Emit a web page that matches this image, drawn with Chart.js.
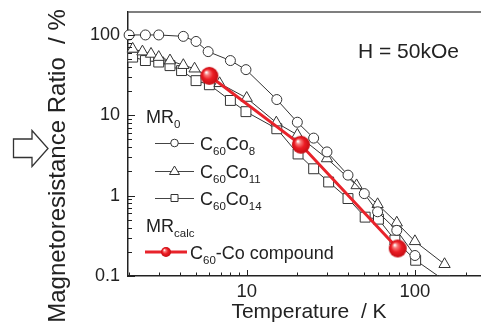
<!DOCTYPE html>
<html>
<head>
<meta charset="utf-8">
<script src="https://cdn.jsdelivr.net/npm/chart.js@4/dist/chart.umd.min.js"></script>
<style>
html,body{margin:0;padding:0;background:#fff;}
#wrap{position:relative;width:481px;height:331px;}
</style>
</head>
<body>
<div id="wrap"><canvas id="c" width="481" height="331"></canvas></div>
<script>
// ---- data ----
const tempCo8  = [2.0, 2.5, 3.0, 4.2, 5.0, 5.9, 8.0, 9.9, 15.1, 20, 25, 30, 40, 50, 60, 78, 100];
const mrCo8    = [100, 100, 100, 96, 83, 62, 48, 37, 15.7, 8.2, 5.2, 3.5, 1.8, 1.06, 0.63, 0.37, 0.18];
const tempCo11 = [2.1, 2.4, 2.7, 3.0, 3.5, 4.2, 4.9, 6.9, 10, 15, 20, 30, 45, 60, 78, 100, 150];
const mrCo11   = [67, 62, 58, 53, 48, 42, 38, 25, 16.4, 8.1, 5.7, 2.9, 1.34, 0.78, 0.46, 0.27, 0.14];
const tempCo14 = [2.1, 2.5, 3.0, 3.5, 4.1, 5.0, 6.0, 8.0, 9.9, 15.1, 20.2, 25, 30.7, 40, 50.6, 60.7, 76, 101, 150];
const mrCo14   = [53, 48, 46, 41.5, 36, 27, 24, 15.3, 11.1, 6.8, 3.3, 2.16, 1.48, 0.92, 0.54, 0.51, 0.28, 0.157, 0.088];
const tempCalc = [6, 21, 79];
const mrCalc   = [31, 4.3, 0.22];
const xTickLabels = [10, 100];
const yTickLabels = [0.1, 1, 10, 100];

const FONT = '"Liberation Sans", Arial, Helvetica, sans-serif';
const INK = '#222';
const LINE = '#333';
const RED = '#e8232b';

function makeBall(r){
  const c = document.createElement('canvas');
  const s = 2*r+2; c.width = s; c.height = s;
  const g = c.getContext('2d');
  const cx = s/2, cy = s/2;
  const grd = g.createRadialGradient(cx - r*0.35, cy - r*0.4, r*0.05, cx, cy, r);
  grd.addColorStop(0, '#ffffff');
  grd.addColorStop(0.22, '#f77a7a');
  grd.addColorStop(0.55, '#ec1d25');
  grd.addColorStop(1, '#c40c12');
  g.fillStyle = grd;
  g.beginPath(); g.arc(cx, cy, r, 0, Math.PI*2); g.fill();
  return c;
}
const bigBall = makeBall(9);
const smallBall = makeBall(5);

function pts(xs, ys){ return xs.map((x,i)=>({x:x, y:ys[i]})); }

function blackSet(label, xs, ys, style, radius, ord){
  return {
    label: label, data: pts(xs, ys), order: ord,
    borderColor: LINE, borderWidth: 1, backgroundColor: '#fff',
    pointStyle: style, pointRadius: radius, pointBorderColor: LINE,
    pointBackgroundColor: '#fff', pointBorderWidth: 1, tension: 0,
    clip: {left: 10, top: 0, right: 0, bottom: 0}
  };
}

const decor = {
  id: 'decor',
  afterDraw(chart){
    const ctx = chart.ctx;
    const a = chart.chartArea;
    const xs = chart.scales.x, ys = chart.scales.y;
    ctx.save();
    // top frame line
    ctx.strokeStyle = '#555'; ctx.lineWidth = 1.5;
    ctx.beginPath(); ctx.moveTo(a.left, a.top); ctx.lineTo(a.right, a.top); ctx.stroke();
    // inward tick marks
    ctx.strokeStyle = INK; ctx.lineWidth = 1;
    for (let d = 1; d <= 100; d *= 10){
      for (let m = 1; m <= 9; m++){
        const v = d*m;
        if (v < xs.min || v > xs.max) continue;
        const px = Math.round(xs.getPixelForValue(v)) + 0.5;
        const len = (m === 1) ? 6 : 3.5;
        ctx.beginPath(); ctx.moveTo(px, a.bottom); ctx.lineTo(px, a.bottom - len); ctx.stroke();
      }
    }
    for (let d = 0.1; d <= 100.5; d *= 10){
      for (let m = 1; m <= 9; m++){
        const v = d*m;
        if (v < ys.min*0.999 || v > ys.max) continue;
        const py = Math.round(ys.getPixelForValue(v)) + 0.5;
        const len = (m === 1) ? 7 : 4;
        ctx.beginPath(); ctx.moveTo(a.left, py); ctx.lineTo(a.left + len, py); ctx.stroke();
      }
    }
    // axis titles
    ctx.fillStyle = INK;
    ctx.font = '21px ' + FONT;
    ctx.textAlign = 'center'; ctx.textBaseline = 'middle';
    ctx.fillText('Temperature  / K', 309, 312);
    ctx.save();
    ctx.translate(58, 166); ctx.rotate(-Math.PI/2);
    ctx.font = '24px ' + FONT;
    ctx.fillText('Magnetoresistance Ratio  / %', 0, 0);
    ctx.restore();
    // arrow
    ctx.strokeStyle = '#333'; ctx.lineWidth = 1.3; ctx.fillStyle = '#fff';
    ctx.beginPath();
    ctx.moveTo(13.5, 139); ctx.lineTo(32, 139); ctx.lineTo(32, 130.5); ctx.lineTo(48, 148.5);
    ctx.lineTo(32, 166.5); ctx.lineTo(32, 157.5); ctx.lineTo(13.5, 157.5); ctx.closePath();
    ctx.fill(); ctx.stroke();
    // field annotation
    ctx.fillStyle = INK; ctx.textAlign = 'left'; ctx.textBaseline = 'alphabetic';
    ctx.font = '21px ' + FONT;
    ctx.fillText('H = 50kOe', 358, 58);
    // legend
    function sub(parts, x, y){
      for (const p of parts){
        ctx.font = (p.s ? '11.5px ' : '18px ') + FONT;
        ctx.fillText(p.t, x, y + (p.s ? 5 : 0));
        x += ctx.measureText(p.t).width;
      }
    }
    sub([{t:'MR'},{t:'0',s:1}], 146, 123);
    const rows = [
      {y: 143, style: 'circle', parts: [{t:'C'},{t:'60',s:1},{t:'Co'},{t:'8',s:1}]},
      {y: 171, style: 'triangle', parts: [{t:'C'},{t:'60',s:1},{t:'Co'},{t:'11',s:1}]},
      {y: 198, style: 'rect', parts: [{t:'C'},{t:'60',s:1},{t:'Co'},{t:'14',s:1}]}
    ];
    for (const r of rows){
      ctx.strokeStyle = '#444'; ctx.lineWidth = 1;
      ctx.beginPath(); ctx.moveTo(155, r.y + 0.5); ctx.lineTo(194, r.y + 0.5); ctx.stroke();
      ctx.fillStyle = '#fff'; ctx.strokeStyle = '#333';
      const mx = 174.5;
      ctx.beginPath();
      if (r.style === 'circle') ctx.arc(mx, r.y, 3.8, 0, Math.PI*2);
      else if (r.style === 'triangle'){ ctx.moveTo(mx, r.y - 5); ctx.lineTo(mx + 5, r.y + 3.5); ctx.lineTo(mx - 5, r.y + 3.5); ctx.closePath(); }
      else ctx.rect(mx - 3.5, r.y - 3.5, 7, 7);
      ctx.fill(); ctx.stroke();
      ctx.fillStyle = INK;
      sub(r.parts, 200, r.y + 7);
    }
    sub([{t:'MR'},{t:'calc',s:1}], 146, 232);
    ctx.strokeStyle = RED; ctx.lineWidth = 3;
    ctx.beginPath(); ctx.moveTo(145, 252); ctx.lineTo(187, 252); ctx.stroke();
    ctx.drawImage(smallBall, 166 - smallBall.width/2, 252 - smallBall.height/2);
    ctx.fillStyle = INK;
    sub([{t:'C'},{t:'60',s:1},{t:'-Co compound'}], 190, 259);
    ctx.restore();
  }
};

new Chart(document.getElementById('c'), {
  type: 'line',
  data: {
    datasets: [
      {
        label: 'C60-Co compound', data: pts(tempCalc, mrCalc), order: 0,
        borderColor: RED, borderWidth: 3, pointStyle: bigBall, pointRadius: 9,
        tension: 0
      },
      blackSet('C60Co8', tempCo8, mrCo8, 'circle', 5, 1),
      blackSet('C60Co11', tempCo11, mrCo11, 'triangle', 6.5, 2),
      blackSet('C60Co14', tempCo14, mrCo14, 'rect', 7, 3)
    ]
  },
  options: {
    responsive: false, animation: false, devicePixelRatio: 1,
    layout: {padding: {top: 12, left: 0, right: 0, bottom: 0}, autoPadding: false},
    plugins: {legend: {display: false}, tooltip: {enabled: false}},
    scales: {
      x: {
        type: 'logarithmic', min: 1.97, max: 247,
        afterFit(s){ s.height = 55; s.paddingLeft = 0; s.paddingRight = 0; },
        afterBuildTicks(s){ s.ticks = xTickLabels.map(v => ({value: v})); },
        grid: {display: false, drawTicks: false},
        border: {display: true, color: INK, width: 1.5},
        ticks: {autoSkip: false, maxRotation: 0, padding: 5, color: INK,
                font: {family: FONT, size: 18.5}, callback: v => String(v)}
      },
      y: {
        type: 'logarithmic', min: 0.1, max: 193,
        afterFit(s){ s.width = 128; s.paddingTop = 0; s.paddingBottom = 0; },
        afterBuildTicks(s){ s.ticks = yTickLabels.map(v => ({value: v})); },
        grid: {display: false, drawTicks: false},
        border: {display: true, color: INK, width: 1.5},
        ticks: {autoSkip: false, padding: 8, color: INK,
                font: {family: FONT, size: 18}, callback: v => String(v)}
      }
    }
  },
  plugins: [decor]
});
</script>
</body>
</html>
